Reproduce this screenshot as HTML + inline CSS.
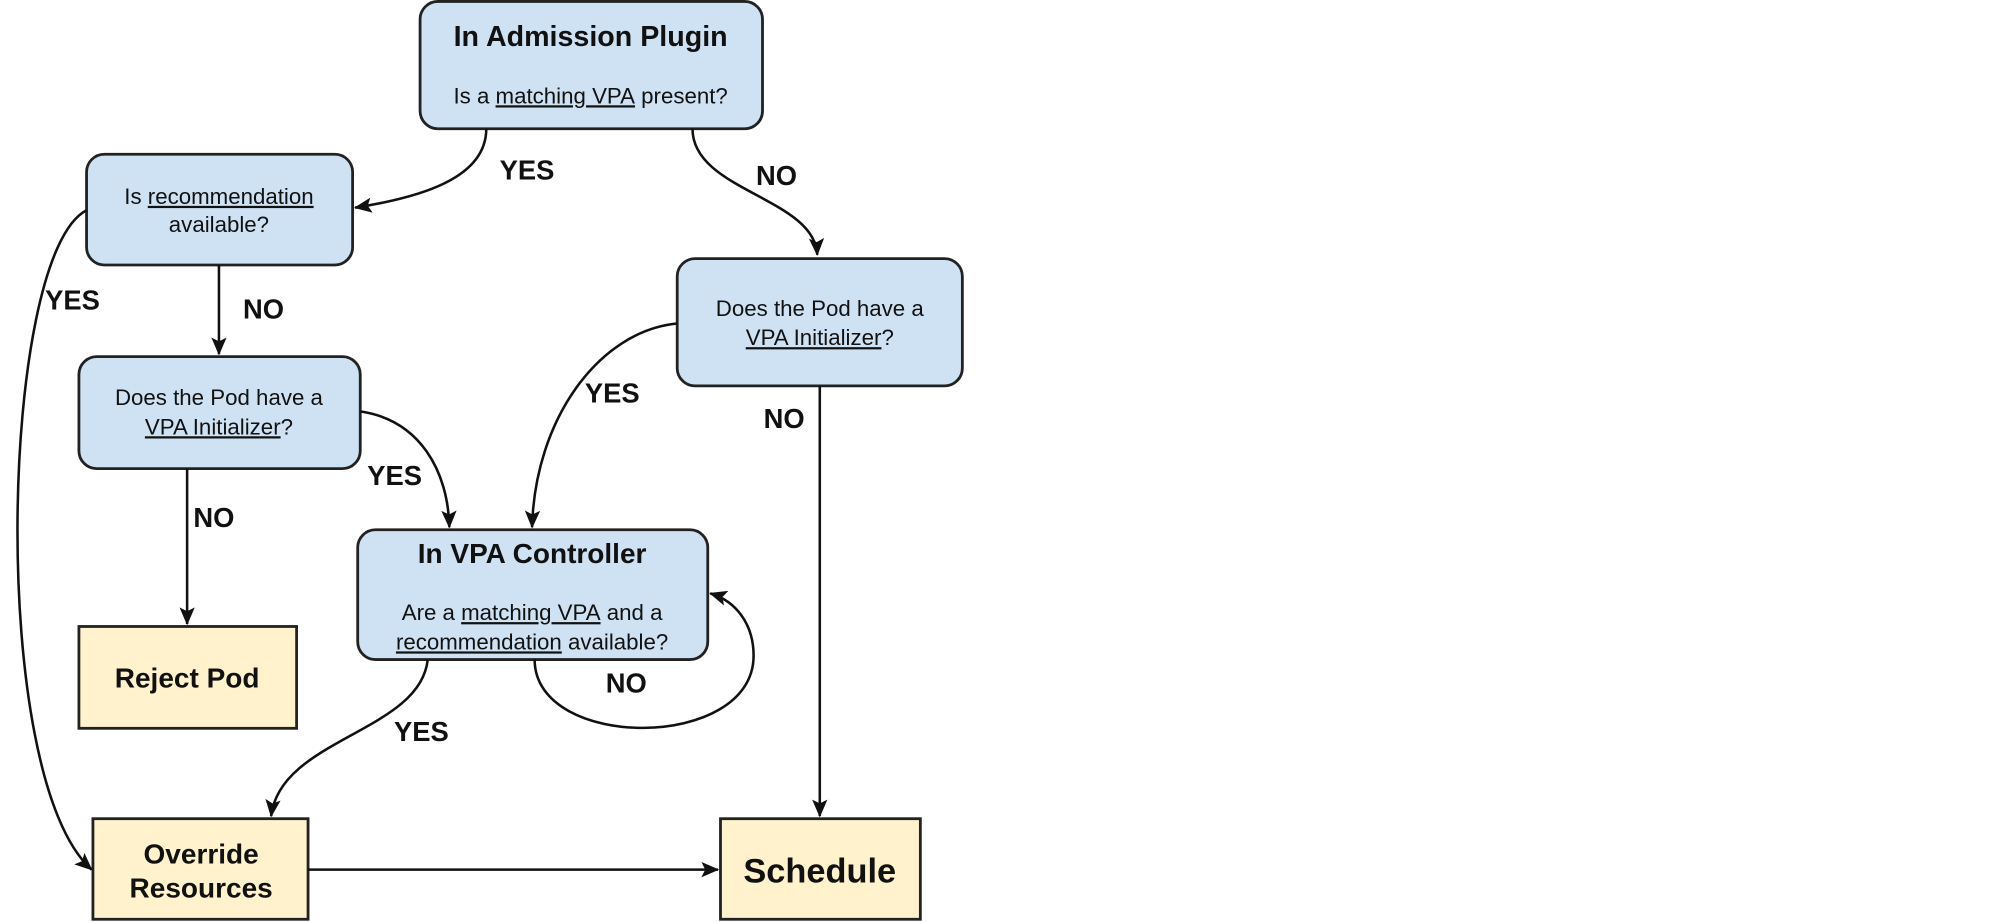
<!DOCTYPE html>
<html><head><meta charset="utf-8"><style>
html,body{margin:0;padding:0;background:#fff;}
svg{display:block;}
text{font-family:"Liberation Sans",Arial,sans-serif;fill:#111;}
.b{font-weight:bold;}
.t{font-size:17.5px;}
.l{font-size:21.5px;font-weight:bold;}
</style></head><body>
<svg width="1996" height="922" viewBox="0 0 1568 724" xmlns="http://www.w3.org/2000/svg">
<defs>
<marker id="a" markerWidth="16" markerHeight="14" refX="13" refY="6" orient="auto" markerUnits="userSpaceOnUse">
<path d="M0,0 L14,6 L0,12 L3,6 Z" fill="#111"/>
</marker>
</defs>
<g stroke="#222" stroke-width="2.2">
<rect x="330" y="1" width="269" height="100" rx="14" fill="#cfe2f3"/>
<rect x="68" y="121" width="209" height="87" rx="14" fill="#cfe2f3"/>
<rect x="62" y="280" width="221" height="88" rx="14" fill="#cfe2f3"/>
<rect x="532" y="203" width="224" height="100" rx="14" fill="#cfe2f3"/>
<rect x="281" y="416" width="275" height="102" rx="14" fill="#cfe2f3"/>
<rect x="62" y="492" width="171" height="80" fill="#fff2cc"/>
<rect x="73" y="643" width="169" height="79" fill="#fff2cc"/>
<rect x="566" y="643" width="157" height="79" fill="#fff2cc"/>
</g>
<g fill="none" stroke="#111" stroke-width="2" marker-end="url(#a)">
<path d="M382,101 C382,140 330,155 279,163"/>
<path d="M544,101 C544,150 640,155 642,200"/>
<path d="M68,165 C0,200 -10,610 72,683"/>
<path d="M172,208 L172,278"/>
<path d="M283,323 C330,330 352,370 353,414"/>
<path d="M147,368 L147,490"/>
<path d="M532,254 C470,260 420,330 418,414"/>
<path d="M644,303 L644,641"/>
<path d="M336,518 C330,575 220,580 213,641"/>
<path d="M420,518 C420,590 592,590 592,515 C592,490 578,472 558,466"/>
<path d="M242,683 L564,683"/>
</g>
<g text-anchor="middle">
<text x="464" y="36" class="b" font-size="22.5">In Admission Plugin</text>
<text x="464" y="81" class="t">Is a <tspan text-decoration="underline">matching VPA</tspan> present?</text>
<text x="172" y="160" class="t">Is <tspan text-decoration="underline">recommendation</tspan></text>
<text x="172" y="182" class="t">available?</text>
<text x="172" y="318" class="t">Does the Pod have a</text>
<text x="172" y="341" class="t"><tspan text-decoration="underline">VPA Initializer</tspan>?</text>
<text x="644" y="248" class="t">Does the Pod have a</text>
<text x="644" y="271" class="t"><tspan text-decoration="underline">VPA Initializer</tspan>?</text>
<text x="418" y="442" class="b" font-size="22">In VPA Controller</text>
<text x="418" y="487" class="t">Are a <tspan text-decoration="underline">matching VPA</tspan> and a</text>
<text x="418" y="510" class="t"><tspan text-decoration="underline">recommendation</tspan> available?</text>
<text x="147" y="540" class="b" font-size="22">Reject Pod</text>
<text x="158" y="678" class="b" font-size="22">Override</text>
<text x="158" y="705" class="b" font-size="22">Resources</text>
<text x="644" y="693" class="b" font-size="27">Schedule</text>
<text x="414" y="141" class="l">YES</text>
<text x="610" y="145" class="l">NO</text>
<text x="57" y="243" class="l">YES</text>
<text x="207" y="250" class="l">NO</text>
<text x="310" y="381" class="l">YES</text>
<text x="168" y="414" class="l">NO</text>
<text x="481" y="316" class="l">YES</text>
<text x="616" y="336" class="l">NO</text>
<text x="331" y="582" class="l">YES</text>
<text x="492" y="544" class="l">NO</text>
</g>
</svg>
</body></html>
